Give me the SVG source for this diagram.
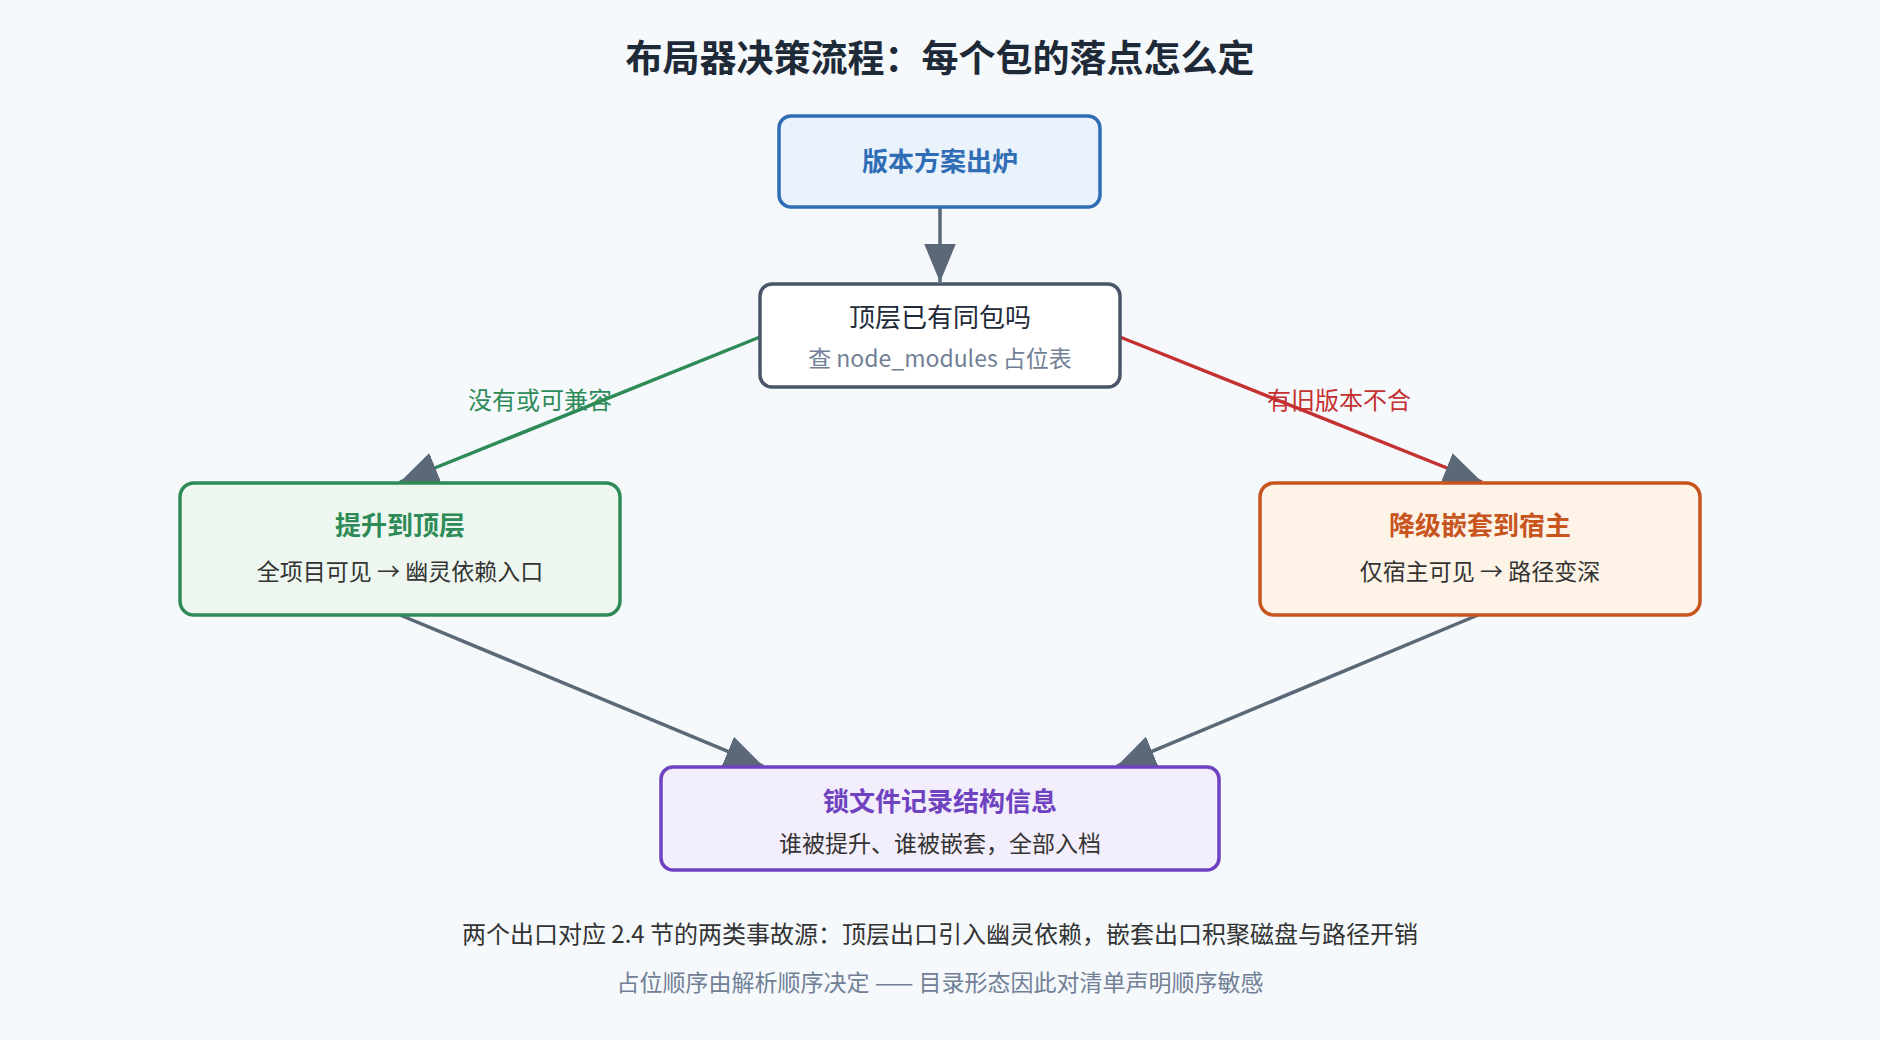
<svg xmlns="http://www.w3.org/2000/svg" width="1880" height="1040" viewBox="0 0 1880 1040">
<defs>
<style>
text{font-family:"Noto Sans CJK SC","Noto Sans",sans-serif;text-anchor:middle}
.t{font-size:26px;font-weight:bold}
.s{font-size:23px;fill:#333}
.n{stroke-width:3.5}
.c{fill:none;stroke-width:3.5}
</style>
<marker id="ag" viewBox="0 0 12 10" refX="12" refY="5" markerWidth="38" markerHeight="32" markerUnits="userSpaceOnUse" orient="auto"><path d="M0,0L12,5L0,10z" fill="#5a6878"/></marker>
</defs>
<rect width="1880" height="1040" fill="#f5f9fc"/>
<text x="940" y="72" style="font-size:37px;font-weight:bold;fill:#1e2a38">布局器决策流程：每个包的落点怎么定</text>
<g id="connectors">
<line class="c" x1="940" y1="207" x2="940" y2="282" stroke="#5a6878" marker-end="url(#ag)"/>
<line class="c" x1="760" y1="337" x2="400" y2="482" stroke="#2e8b57" marker-end="url(#ag)"/>
<line class="c" x1="1120" y1="337" x2="1482" y2="482" stroke="#c53030" marker-end="url(#ag)"/>
<line class="c" x1="400" y1="615" x2="763" y2="766" stroke="#5a6878" marker-end="url(#ag)"/>
<line class="c" x1="1478" y1="615" x2="1117" y2="766" stroke="#5a6878" marker-end="url(#ag)"/>
<text x="540" y="409" style="font-size:24px;fill:#2e8b57">没有或可兼容</text>
<text x="1339" y="409" style="font-size:24px;fill:#c53030">有旧版本不合</text>
</g>
<g id="start"><rect class="n" x="779" y="116" width="321" height="91" rx="12" fill="#eaf2fc" stroke="#2f6db5"/><text class="t" x="940" y="171" fill="#2f6db5">版本方案出炉</text></g>
<g id="decision"><rect class="n" x="760" y="284" width="360" height="103" rx="12" fill="#fff" stroke="#4a5568"/><text x="940" y="327" style="font-size:26px;fill:#1e2a38">顶层已有同包吗</text><text x="940" y="367" style="font-size:23px;fill:#718096">查 node_modules 占位表</text></g>
<g id="hoist"><rect class="n" x="180" y="483" width="440" height="132" rx="14" fill="#edf7ef" stroke="#2e8b57"/><text class="t" x="400" y="535" fill="#2e8b57">提升到顶层</text><text class="s" x="400" y="580">全项目可见 → 幽灵依赖入口</text></g>
<g id="nest"><rect class="n" x="1260" y="483" width="440" height="132" rx="14" fill="#fdf3e7" stroke="#c8541e"/><text class="t" x="1480" y="535" fill="#c8541e">降级嵌套到宿主</text><text class="s" x="1480" y="580">仅宿主可见 → 路径变深</text></g>
<g id="lock"><rect class="n" x="661" y="767" width="558" height="103" rx="12" fill="#f3eefb" stroke="#6f42c1"/><text class="t" x="940" y="811" fill="#6f42c1">锁文件记录结构信息</text><text class="s" x="940" y="852">谁被提升、谁被嵌套，全部入档</text></g>
<text x="940" y="943" style="font-size:24px;fill:#333">两个出口对应 2.4 节的两类事故源：顶层出口引入幽灵依赖，嵌套出口积聚磁盘与路径开销</text>
<text x="940" y="991" style="font-size:23px;fill:#718096">占位顺序由解析顺序决定 —— 目录形态因此对清单声明顺序敏感</text>
</svg>
